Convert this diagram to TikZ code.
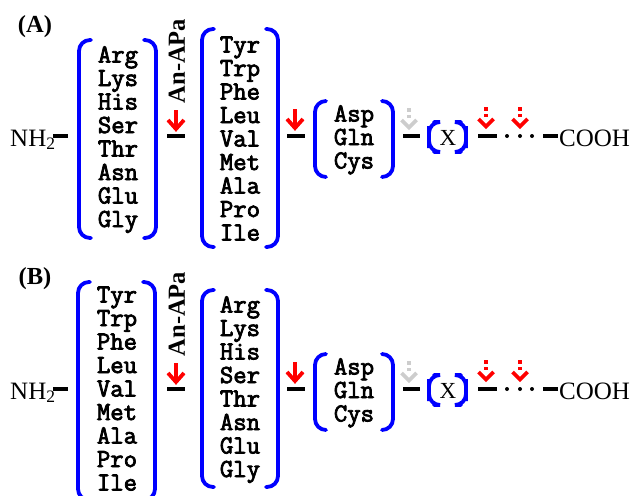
\documentclass[tikz,border=0pt]{standalone}
\usepackage{fontspec}
\setmainfont{Liberation Serif}
\newfontfamily\aamono{Latin Modern Mono}[FakeBold=3]
\definecolor{lgrey}{RGB}{205,205,205}
\tikzset{
 brk/.style={draw=blue, line width=3.8pt, rounded corners=11pt, line cap=round},
 bar/.style={draw=black, line width=3.6pt},
 aa/.style={font=\aamono\fontsize{26}{26}\selectfont, anchor=base, inner sep=0pt},
 serif/.style={font=\fontsize{25}{25}\selectfont, inner sep=0pt},
 lab/.style={font=\bfseries\fontsize{24.5}{24.5}\selectfont, inner sep=0pt},
 redarr/.style={draw=red, line width=3.8pt},
}
\newcommand\lbk[4]{\draw[brk] ({#1+#4},{#2-#3}) -| (#1,#2) |- ({#1+#4},{#2+#3});}
\newcommand\rbk[4]{\draw[brk] ({#1-#4},{#2-#3}) -| (#1,#2) |- ({#1-#4},{#2+#3});}
\newcommand\sarr[2]{\draw[redarr] (#1,#2) -- (#1,{#2+18});
  \draw[redarr, line join=miter] ({#1-8},{#2+10}) -- (#1,{#2+19}) -- ({#1+8},{#2+10});}
\newcommand\darr[3]{\fill[#3] ({#1-1.7},{#2-1.7}) rectangle ({#1+1.7},{#2+1.7});
  \fill[#3] ({#1-1.7},{#2+4.5}) rectangle ({#1+1.7},{#2+7.9});
  \draw[draw=#3, line width=3.7pt, line join=miter] ({#1-7.5},{#2+10}) -- (#1,{#2+17.5}) -- ({#1+7.5},{#2+10});}
\newcommand\chain{%
  \node[serif, anchor=base west] (nh) at (10,146) {NH\textsubscript{2}};
  \draw[bar] (53,136) -- (68,136);
  \node[lab, rotate=90] (ap) at (177,61) {An-APa};
  \sarr{176}{110}
  \draw[bar] (167,136) -- (185,136);
  \sarr{295}{109}
  \draw[bar] (287,136) -- (305,136);
  \lbk{315}{139}{38}{11}
  \foreach \t [count=\i] in {Asp,Gln,Cys} \node[aa] (c3-\i) at (354,{114+(\i-1)*23.5+7.5}) {\t};
  \rbk{393}{139}{38}{11}
  \darr{409}{110}{lgrey}
  \draw[bar] (403,136) -- (420,136);
  \lbk{429}{137}{15}{5}
  \node[serif, font=\fontsize{23}{23}\selectfont] (x) at (448,138) {X};
  \rbk{466}{137}{15}{5}
  \darr{486}{109}{red}
  \draw[bar] (478,136) -- (497,136);
  \fill (507,136) circle (2pt);
  \fill (520,136) circle (2pt);
  \fill (532,136) circle (2pt);
  \darr{520}{109}{red}
  \draw[bar] (543,136) -- (558,136);
  \node[serif, anchor=base west] (cooh) at (559,146) {COOH};
}
\begin{document}
\begin{tikzpicture}[x=1pt,y=-1pt]
\useasboundingbox (0,0) rectangle (634,495);
% panel A
\begin{scope}[name prefix=A-]
  \node[lab] (lab) at (35,27) {(A)};
  \chain
  \lbk{79}{139}{99}{12}
  \foreach \t [count=\i] in {Arg,Lys,His,Ser,Thr,Asn,Glu,Gly} \node[aa] (c1-\i) at (118,{55+(\i-1)*23.5+7.5}) {\t};
  \rbk{156}{139}{99}{12}
  \lbk{202}{138}{109}{12}
  \foreach \t [count=\i] in {Tyr,Trp,Phe,Leu,Val,Met,Ala,Pro,Ile} \node[aa] (c2-\i) at (240,{45+(\i-1)*23.5+7.5}) {\t};
  \rbk{278}{138}{109}{12}
\end{scope}
% panel B
\begin{scope}[yshift=-253pt, name prefix=B-]
  \node[lab] (lab) at (35,26) {(B)};
  \chain
  \lbk{78}{138}{109}{12}
  \foreach \t [count=\i] in {Tyr,Trp,Phe,Leu,Val,Met,Ala,Pro,Ile} \node[aa] (c1-\i) at (117,{42+(\i-1)*23.5+7.5}) {\t};
  \rbk{155}{138}{109}{12}
  \lbk{202}{135.5}{98.5}{12}
  \foreach \t [count=\i] in {Arg,Lys,His,Ser,Thr,Asn,Glu,Gly} \node[aa] (c2-\i) at (240,{52+(\i-1)*23.5+7.5}) {\t};
  \rbk{278}{135.5}{98.5}{12}
\end{scope}
\end{tikzpicture}
\end{document}
